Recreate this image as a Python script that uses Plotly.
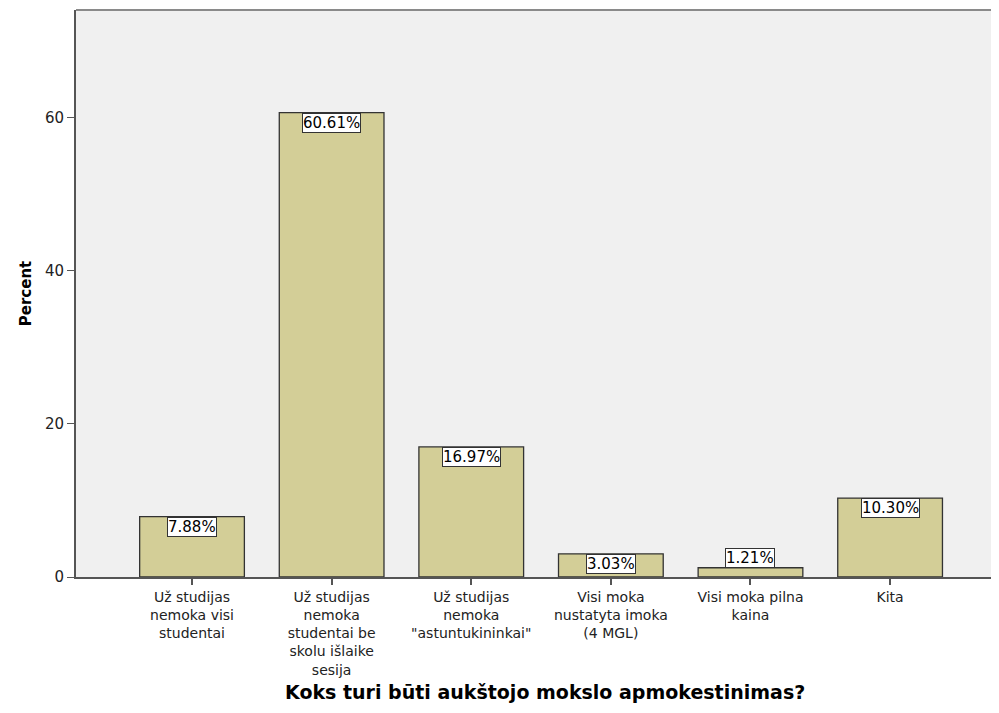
import plotly.graph_objects as go

categories = [
    "Už studijas<br>nemoka visi<br>studentai",
    "Už studijas<br>nemoka<br>studentai be<br>skolu išlaike<br>sesija",
    "Už studijas<br>nemoka<br>\"astuntukininkai\"",
    "Visi moka<br>nustatyta imoka<br>(4 MGL)",
    "Visi moka pilna<br>kaina",
    "Kita",
]
percent = [7.88, 60.61, 16.97, 3.03, 1.21, 10.30]
y_ticks = [0, 20, 40, 60]
x_title = "Koks turi būti aukštojo mokslo apmokestinimas?"
y_title = "Percent"

FONT = "DejaVu Sans, Verdana, sans-serif"

fig = go.Figure()
fig.add_trace(go.Bar(
    x=list(range(len(categories))),
    y=percent,
    width=0.75,
    marker=dict(color="#D3CE97", line=dict(color="#333333", width=1.3)),
    hoverinfo="skip",
))

for i, v in enumerate(percent):
    small = v < 3
    fig.add_annotation(
        x=i, y=v, xref="x", yref="y",
        text=f"{v:.2f}%",
        showarrow=False,
        yanchor="bottom" if small else "top",
        font=dict(family=FONT, size=15, color="#000000"),
        bgcolor="#FFFFFF",
        bordercolor="#333333",
        borderwidth=1,
        borderpad=0,
    )

# x axis title placed below the tick labels
fig.add_annotation(
    x=0.508, y=-0.203, xref="paper", yref="paper",
    text=f"<b>{x_title}</b>", showarrow=False,
    xanchor="center", yanchor="middle",
    font=dict(family=FONT, size=19, color="#000000"),
)

fig.update_layout(
    width=991, height=705,
    margin=dict(l=68, r=0, t=2, b=136),
    paper_bgcolor="#FFFFFF",
    plot_bgcolor="#F0F0F0",
    showlegend=False,
    font=dict(family=FONT, size=13, color="#222222"),
    xaxis=dict(
        tickmode="array",
        tickvals=list(range(len(categories))),
        ticktext=categories,
        range=[-0.831, 5.78],
        showgrid=False,
        zeroline=False,
        showline=True,
        linecolor="#555555",
        linewidth=2,
        ticks="outside",
        ticklen=6,
        tickwidth=2,
        tickcolor="#555555",
        tickangle=0,
        tickfont=dict(family=FONT, size=14, color="#222222"),
    ),
    yaxis=dict(
        range=[0, 74],
        tickvals=y_ticks,
        showgrid=False,
        zeroline=False,
        showline=True,
        linecolor="#555555",
        linewidth=2,
        ticks="outside",
        ticklen=7,
        tickwidth=1,
        tickcolor="#555555",
        tickfont=dict(family=FONT, size=15, color="#222222"),
        title=dict(text=f"<b>{y_title}</b>", font=dict(family=FONT, size=15, color="#000000"), standoff=10),
    ),
)

# top frame line
fig.add_shape(type="line", xref="paper", yref="paper", x0=0, x1=1, y0=1, y1=1,
              line=dict(color="#8a8a8a", width=2))

fig.write_html("out.html")
